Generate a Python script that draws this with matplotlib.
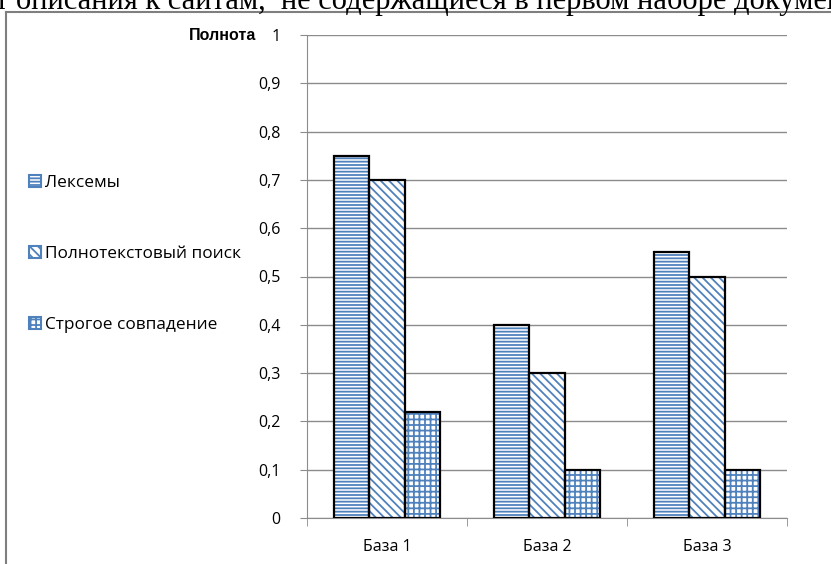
import numpy as np
import matplotlib
matplotlib.use("Agg")
import matplotlib.pyplot as plt
from matplotlib.patches import Patch
from matplotlib.lines import Line2D

# data
categories = ["База 1", "База 2", "База 3"]
series = ["Лексемы", "Полнотекстовый поиск", "Строгое совпадение"]
lexemes = [0.75, 0.40, 0.55]
fulltext = [0.70, 0.30, 0.50]
strict = [0.22, 0.10, 0.10]
yticks = [0, 0.1, 0.2, 0.3, 0.4, 0.5, 0.6, 0.7, 0.8, 0.9, 1]
ytick_labels = ["0", "0,1", "0,2", "0,3", "0,4", "0,5", "0,6", "0,7", "0,8", "0,9", "1"]

blue = "#4F81BD"
grid_gray = "#8C8C8C"
hatches = ["-----", "\\\\\\\\", "+++"]
values = [lexemes, fulltext, strict]

plt.rcParams["font.family"] = ["Open Sans", "DejaVu Sans"]
plt.rcParams["hatch.linewidth"] = 1.3

W, H = 831, 564
fig = plt.figure(figsize=(W / 100, H / 100), dpi=100)
ax = fig.add_axes([307 / W, 1 - 518 / H, 480 / W, 483 / H])

x = np.arange(len(categories))
bw = 0.22
for i, vals in enumerate(values):
    pos = x + (i - 1) * bw
    # hatch in blue, outline in black
    ax.bar(pos, vals, bw, color="white", edgecolor=blue, hatch=hatches[i],
           linewidth=0, zorder=3)
    ax.bar(pos, vals, bw, color="none", edgecolor="black", linewidth=1.6, zorder=4)

ax.set_xlim(-0.5, 2.5)
ax.set_ylim(0, 1)
ax.set_yticks(yticks)
ax.set_yticklabels(ytick_labels, fontsize=11.5)
ax.set_xticks(x)
ax.set_xticklabels(categories, fontsize=11.5)
ax.set_xticks([-0.5, 0.5, 1.5, 2.5], minor=True)
ax.tick_params(axis="x", which="major", length=0, pad=15)
ax.tick_params(axis="x", which="minor", length=6, color=grid_gray, direction="out")
ax.tick_params(axis="y", length=5, color=grid_gray, pad=14)
ax.yaxis.grid(True, color=grid_gray, linewidth=1)
ax.set_axisbelow(True)
for s in ["top", "right"]:
    ax.spines[s].set_visible(False)
for s in ["left", "bottom"]:
    ax.spines[s].set_color(grid_gray)

fig.text(256 / W, 1 - 35 / H, "Полнота", fontsize=11.5, fontweight="bold",
         family=["Liberation Sans", "DejaVu Sans"], ha="right", va="center")

# legend on the left
handles = [Patch(facecolor="white", edgecolor=blue, hatch=hatches[i], linewidth=1.5)
           for i in range(3)]
leg = fig.legend(handles, series, loc="upper left", bbox_to_anchor=(22 / W, 1 - 168 / H),
                 frameon=False, fontsize=12.4, labelspacing=3.2, handlelength=0.7,
                 handleheight=0.7, handletextpad=0.25, borderaxespad=0)

# chart frame and cut-off document line above it
fig.add_artist(Line2D([6 / W, 6 / W], [0, 1 - 12 / H], color="#7F7F7F", lw=1.5,
                      transform=fig.transFigure))
fig.add_artist(Line2D([6 / W, 1], [1 - 12 / H, 1 - 12 / H], color="#7F7F7F", lw=1.5,
                      transform=fig.transFigure))
fig.text(-5 / W, 1 - 1 / H, "т описания к сайтам,  не содержащиеся в первом наборе документов",
         fontsize=22, family="Liberation Serif", ha="left", va="center")

fig.savefig("out.png", dpi=100)
